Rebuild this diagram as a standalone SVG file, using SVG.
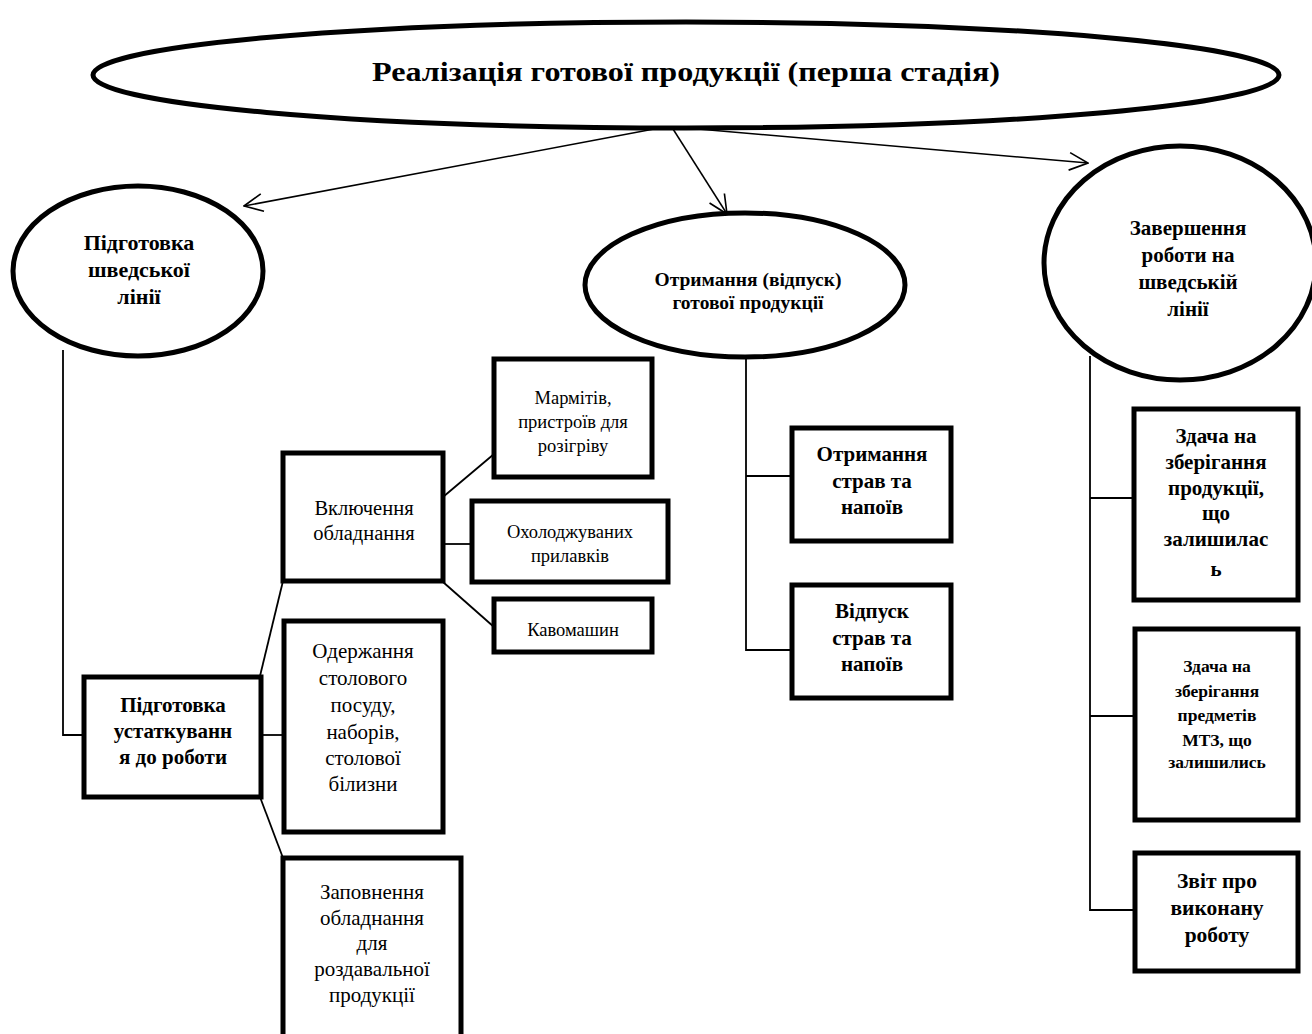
<svg xmlns="http://www.w3.org/2000/svg" width="1312" height="1034" viewBox="0 0 1312 1034">
  <style>
    text { font-family: "Liberation Serif", "Times New Roman", serif; fill: #000; text-anchor: middle; }
    .b { font-weight: bold; }
    .oval { fill: #fff; stroke: #000; stroke-width: 5; }
    .box { fill: #fff; stroke: #000; stroke-width: 5; }
    .ln { fill: none; stroke: #000; stroke-width: 1.8; }
    .arr { fill: none; stroke: #000; stroke-width: 1.5; }
  </style>
  <defs>
    <marker id="open" viewBox="0 0 20 20" refX="19" refY="10" markerWidth="22" markerHeight="22" markerUnits="userSpaceOnUse" orient="auto">
      <path d="M2,2 L19,10 L2,18" fill="none" stroke="#000" stroke-width="1.5"/>
    </marker>
  </defs>
  <rect width="1312" height="1034" fill="#fff"/>

  <!-- connectors -->
  <g id="connectors">
    <line class="arr" x1="654" y1="129" x2="244" y2="206" marker-end="url(#open)"/>
    <line class="arr" x1="673" y1="129" x2="727" y2="214" marker-end="url(#open)"/>
    <line class="arr" x1="698" y1="129" x2="1088" y2="163" marker-end="url(#open)"/>
    <!-- left branch -->
    <polyline class="ln" points="63,350 63,735 84,735"/>
    <line class="ln" x1="260" y1="735" x2="284" y2="735"/>
    <line class="ln" x1="260" y1="676" x2="283" y2="581"/>
    <line class="ln" x1="260" y1="797" x2="283" y2="858"/>
    <line class="ln" x1="443" y1="497" x2="494" y2="454"/>
    <line class="ln" x1="443" y1="544" x2="472" y2="544"/>
    <line class="ln" x1="443" y1="582" x2="494" y2="627"/>
    <!-- middle branch -->
    <polyline class="ln" points="746,358 746,650 792,650"/>
    <line class="ln" x1="746" y1="476" x2="792" y2="476"/>
    <!-- right branch -->
    <polyline class="ln" points="1090,356 1090,910 1135,910"/>
    <line class="ln" x1="1090" y1="498" x2="1133" y2="498"/>
    <line class="ln" x1="1090" y1="716" x2="1135" y2="716"/>
  </g>

  <!-- top oval -->
  <g id="n-main">
    <ellipse class="oval" cx="686" cy="75" rx="593" ry="53"/>
    <text class="b" x="686" y="81" font-size="28" textLength="628" lengthAdjust="spacingAndGlyphs">Реалізація готової продукції (перша стадія)</text>
  </g>

  <g id="n-prep-line">
    <ellipse class="oval" cx="138" cy="271" rx="125" ry="85"/>
    <text class="b" font-size="22"><tspan x="139" y="250">Підготовка</tspan><tspan x="139" y="277">шведської</tspan><tspan x="139" y="304">лінії</tspan></text>
  </g>

  <g id="n-issue">
    <ellipse class="oval" cx="745" cy="285" rx="160" ry="72"/>
    <text class="b" font-size="19.5"><tspan x="748" y="286">Отримання (відпуск)</tspan><tspan x="748" y="309">готової продукції</tspan></text>
  </g>

  <g id="n-finish">
    <ellipse class="oval" cx="1180" cy="263" rx="136" ry="117"/>
    <text class="b" font-size="21"><tspan x="1188" y="235">Завершення</tspan><tspan x="1188" y="262">роботи на</tspan><tspan x="1188" y="289">шведській</tspan><tspan x="1188" y="316">лінії</tspan></text>
  </g>

  <!-- left branch boxes -->
  <g id="n-equip-prep">
    <rect class="box" x="84" y="677" width="177" height="120"/>
    <text class="b" font-size="21"><tspan x="173" y="712">Підготовка</tspan><tspan x="173" y="738">устаткуванн</tspan><tspan x="173" y="764">я до роботи</tspan></text>
  </g>

  <g id="n-switch-on">
    <rect class="box" x="283" y="453" width="160" height="128"/>
    <text font-size="20.5"><tspan x="364" y="515">Включення</tspan><tspan x="364" y="540">обладнання</tspan></text>
  </g>

  <g id="n-tableware">
    <rect class="box" x="284" y="621" width="159" height="211"/>
    <text font-size="21"><tspan x="363" y="658">Одержання</tspan><tspan x="363" y="685">столового</tspan><tspan x="363" y="712">посуду,</tspan><tspan x="363" y="739">наборів,</tspan><tspan x="363" y="765">столової</tspan><tspan x="363" y="791">білизни</tspan></text>
  </g>

  <g id="n-fill">
    <rect class="box" x="283" y="858" width="178" height="190"/>
    <text font-size="21"><tspan x="372" y="899">Заповнення</tspan><tspan x="372" y="925">обладнання</tspan><tspan x="372" y="950">для</tspan><tspan x="372" y="976">роздавальної</tspan><tspan x="372" y="1002">продукції</tspan></text>
  </g>

  <g id="n-marmite">
    <rect class="box" x="494" y="359" width="158" height="118"/>
    <text font-size="18.5"><tspan x="573" y="404">Мармітів,</tspan><tspan x="573" y="428">пристроїв для</tspan><tspan x="573" y="452">розігріву</tspan></text>
  </g>

  <g id="n-cooled">
    <rect class="box" x="472" y="501" width="196" height="81"/>
    <text font-size="18.5"><tspan x="570" y="538">Охолоджуваних</tspan><tspan x="570" y="562">прилавків</tspan></text>
  </g>

  <g id="n-coffee">
    <rect class="box" x="494" y="599" width="158" height="53"/>
    <text font-size="18.5" x="573" y="636">Кавомашин</text>
  </g>

  <!-- middle branch boxes -->
  <g id="n-receive">
    <rect class="box" x="792" y="428" width="159" height="113"/>
    <text class="b" font-size="21"><tspan x="872" y="461">Отримання</tspan><tspan x="872" y="488">страв та</tspan><tspan x="872" y="514">напоїв</tspan></text>
  </g>

  <g id="n-dispense">
    <rect class="box" x="792" y="585" width="159" height="113"/>
    <text class="b" font-size="21"><tspan x="872" y="618">Відпуск</tspan><tspan x="872" y="645">страв та</tspan><tspan x="872" y="671">напоїв</tspan></text>
  </g>

  <!-- right branch boxes -->
  <g id="n-store-food">
    <rect class="box" x="1134" y="409" width="164" height="191"/>
    <text class="b" font-size="21"><tspan x="1216" y="443">Здача на</tspan><tspan x="1216" y="469">зберігання</tspan><tspan x="1216" y="495">продукції,</tspan><tspan x="1216" y="520">що</tspan><tspan x="1216" y="546">залишилас</tspan><tspan x="1216" y="576">ь</tspan></text>
  </g>

  <g id="n-store-mtz">
    <rect class="box" x="1135" y="629" width="163" height="191"/>
    <text class="b" font-size="17.5"><tspan x="1217" y="672">Здача на</tspan><tspan x="1217" y="697">зберігання</tspan><tspan x="1217" y="721">предметів</tspan><tspan x="1217" y="746">МТЗ, що</tspan><tspan x="1217" y="768">залишились</tspan></text>
  </g>

  <g id="n-report">
    <rect class="box" x="1135" y="853" width="163" height="118"/>
    <text class="b" font-size="21.5"><tspan x="1217" y="888">Звіт про</tspan><tspan x="1217" y="915">виконану</tspan><tspan x="1217" y="942">роботу</tspan></text>
  </g>
</svg>
